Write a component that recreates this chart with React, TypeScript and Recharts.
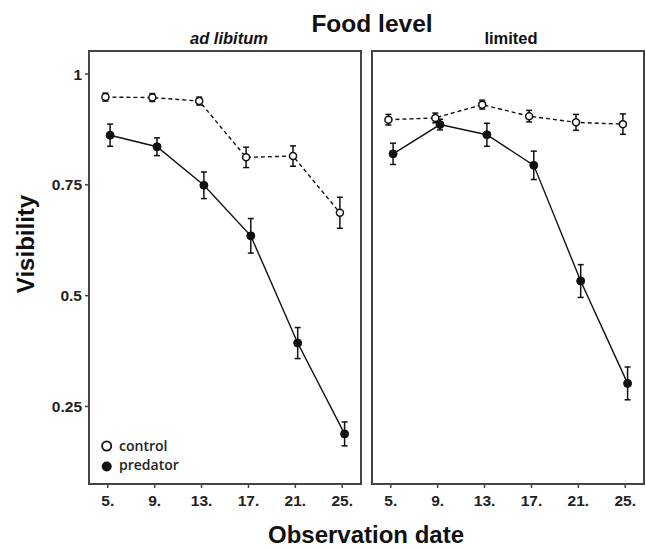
import { ComposedChart, Line, XAxis, YAxis, ErrorBar, ReferenceArea } from 'recharts';

const dates = [5, 9, 13, 17, 21, 25];
const yTicks = [0.25, 0.5, 0.75, 1];

const adLibControl = [0.948, 0.947, 0.939, 0.812, 0.815, 0.687];
const adLibControlSe = [0.009, 0.009, 0.009, 0.023, 0.023, 0.035];
const adLibPredator = [0.862, 0.836, 0.749, 0.635, 0.393, 0.188];
const adLibPredatorSe = [0.025, 0.02, 0.03, 0.039, 0.035, 0.027];

const limitedControl = [0.897, 0.901, 0.931, 0.905, 0.891, 0.887];
const limitedControlSe = [0.012, 0.011, 0.01, 0.013, 0.018, 0.023];
const limitedPredator = [0.82, 0.886, 0.863, 0.794, 0.533, 0.302];
const limitedPredatorSe = [0.024, 0.012, 0.026, 0.032, 0.037, 0.037];

const FONT = '"Liberation Sans", Arial, sans-serif';
const INK = '#111';
const X_DOMAIN = [3.4, 26.6];
const Y_DOMAIN = [0.075, 1.052];
// ggplot-style dodge between the two groups
const DODGE = 0.2;

const tickStyle = { fontFamily: FONT, fontSize: 15.5, fontWeight: 700, fill: '#222' };

const rows = (vals: number[], se: number[], shift: number) =>
  dates.map((d, i) => ({ x: d + shift, y: vals[i], e: se[i] }));

function Panel({ left, width, control, controlSe, predator, predatorSe, showY }: any) {
  return (
    <div style={{ position: 'absolute', left, top: 0 }}>
      <ComposedChart
        width={width}
        height={549}
        margin={{ top: 51, right: 2, bottom: 35, left: showY ? 0 : 2 }}
      >
        <XAxis
          type="number"
          dataKey="x"
          domain={X_DOMAIN}
          ticks={dates}
          allowDataOverflow
          tickFormatter={(v) => `${v}.`}
          axisLine={false}
          tickLine={{ stroke: '#444', strokeWidth: 1.5 }}
          tickSize={4}
          tickMargin={7}
          height={30}
          tick={tickStyle}
        />
        <YAxis
          type="number"
          domain={Y_DOMAIN}
          ticks={yTicks}
          allowDataOverflow
          hide={!showY}
          width={89}
          axisLine={false}
          tickLine={{ stroke: '#444', strokeWidth: 1.5 }}
          tickSize={4}
          tickMargin={3}
          tick={tickStyle}
        />
        <ReferenceArea
          x1={X_DOMAIN[0]}
          x2={X_DOMAIN[1]}
          y1={Y_DOMAIN[0]}
          y2={Y_DOMAIN[1]}
          fill="none"
          stroke="#444"
          strokeWidth={2}
          ifOverflow="visible"
        />
        <Line
          data={rows(control, controlSe, -DODGE)}
          dataKey="y"
          stroke={INK}
          strokeWidth={1.4}
          strokeDasharray="4 3"
          dot={{ r: 3.5, fill: '#fff', stroke: INK, strokeWidth: 1.5, strokeDasharray: '0' }}
          activeDot={false}
          isAnimationActive={false}
        >
          <ErrorBar dataKey="e" direction="y" width={3} stroke={INK} strokeWidth={1.5} />
        </Line>
        <Line
          data={rows(predator, predatorSe, DODGE)}
          dataKey="y"
          stroke={INK}
          strokeWidth={1.4}
          dot={{ r: 4, fill: INK, stroke: INK, strokeWidth: 1 }}
          activeDot={false}
          isAnimationActive={false}
        >
          <ErrorBar dataKey="e" direction="y" width={3} stroke={INK} strokeWidth={1.5} />
        </Line>
      </ComposedChart>
    </div>
  );
}

export default function App() {
  return (
    <div style={{ position: 'absolute', left: 0, top: 0, width: 646, height: 549, background: '#fff' }}>
      <Panel
        left={0}
        width={363}
        control={adLibControl}
        controlSe={adLibControlSe}
        predator={adLibPredator}
        predatorSe={adLibPredatorSe}
        showY
      />
      <Panel
        left={370}
        width={276}
        control={limitedControl}
        controlSe={limitedControlSe}
        predator={limitedPredator}
        predatorSe={limitedPredatorSe}
      />

      {/* titles and legend */}
      <svg width={646} height={549} style={{ position: 'absolute', left: 0, top: 0, pointerEvents: 'none' }}>
        <text x={372} y={31.5} textAnchor="middle" fontFamily={FONT} fontWeight={700} fontSize={24.5} fill={INK}>
          Food level
        </text>
        <text x={229} y={44} textAnchor="middle" fontFamily={FONT} fontWeight={700} fontStyle="italic" fontSize={16.5} fill={INK}>
          ad libitum
        </text>
        <text x={511} y={44} textAnchor="middle" fontFamily={FONT} fontWeight={700} fontSize={16.5} fill={INK}>
          limited
        </text>
        <text
          x={34}
          y={244}
          transform="rotate(-90 34 244)"
          textAnchor="middle"
          fontFamily={FONT}
          fontWeight={700}
          fontSize={24}
          fill={INK}
        >
          Visibility
        </text>
        <text x={366} y={543} textAnchor="middle" fontFamily={FONT} fontWeight={700} fontSize={24} fill={INK}>
          Observation date
        </text>

        <circle cx={106.7} cy={446} r={4.6} fill="#fff" stroke={INK} strokeWidth={1.8} />
        <text x={119} y={451} fontFamily='"Open Sans", sans-serif' fontWeight={600} fontSize={14} fill="#222">
          control
        </text>
        <circle cx={106.7} cy={466.5} r={5} fill={INK} />
        <text x={119} y={470} fontFamily='"Open Sans", sans-serif' fontWeight={600} fontSize={14} fill="#222">
          predator
        </text>
      </svg>
    </div>
  );
}
